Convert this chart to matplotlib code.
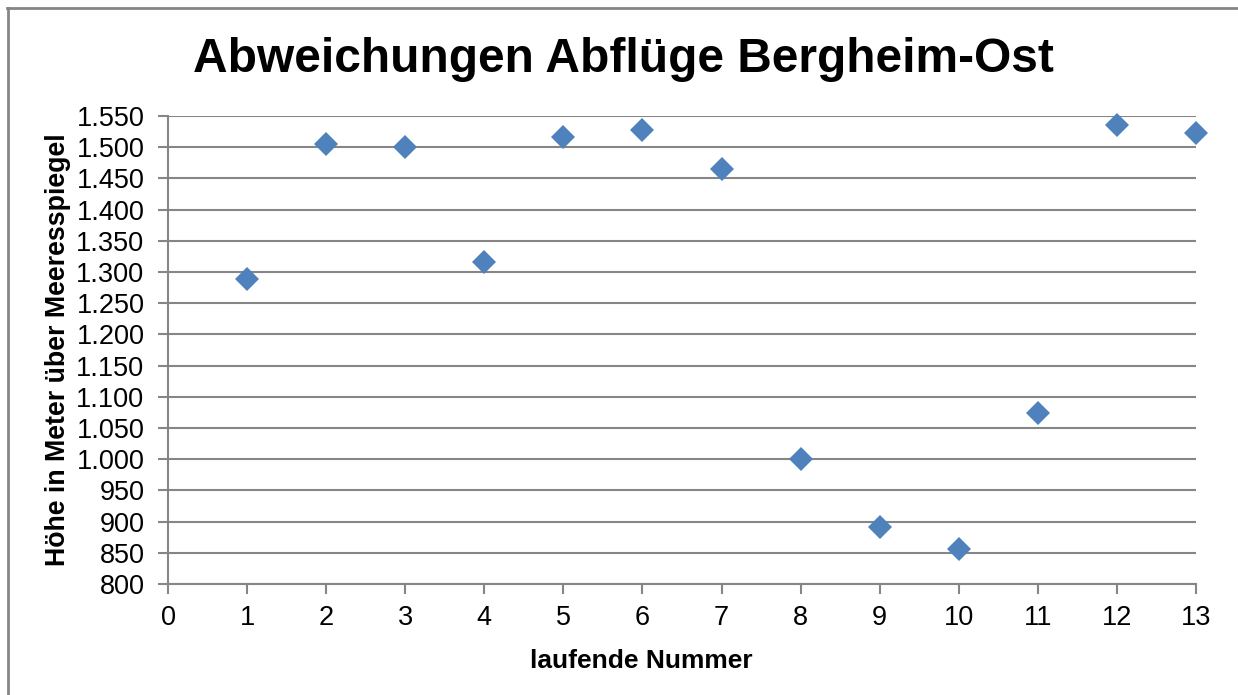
import matplotlib
matplotlib.use('Agg')
import matplotlib.pyplot as plt
from matplotlib.lines import Line2D
from matplotlib.ticker import FuncFormatter

# data
laufende_nummer = [1, 2, 3, 4, 5, 6, 7, 8, 9, 10, 11, 12, 13]
hoehe = [1288, 1505, 1500, 1316, 1516, 1528, 1465, 1000, 891, 856, 1074, 1536, 1523]

title = 'Abweichungen Abflüge Bergheim-Ost'
xlabel = 'laufende Nummer'
ylabel = 'Höhe in Meter über Meeresspiegel'

plt.rcParams['font.family'] = ['Liberation Sans', 'DejaVu Sans']

W, H = 1238, 695
fig = plt.figure(figsize=(W / 100, H / 100), dpi=100)
ax = fig.add_axes([168 / W, 1 - 584 / H, (1196 - 168) / W, (584 - 116) / H])

grid_c = '#868686'
ax.plot(laufende_nummer, hoehe, linestyle='none', marker='D', ms=12.5,
        color='#4F81BD', markeredgewidth=0, clip_on=False, zorder=3)

ax.set_xlim(0, 13)
ax.set_ylim(800, 1550)
ax.set_xticks(range(0, 14))
ax.set_yticks(range(800, 1551, 50))
ax.yaxis.set_major_formatter(FuncFormatter(lambda v, p: f'{int(v):,}'.replace(',', '.')))
ax.grid(axis='y', color=grid_c, lw=1.5)
ax.set_axisbelow(True)
for s in ['top', 'right']:
    ax.spines[s].set_visible(False)
for s in ['left', 'bottom']:
    ax.spines[s].set_color(grid_c)
    ax.spines[s].set_linewidth(1.5)
ax.tick_params(axis='both', direction='out', length=7, width=1.5, color=grid_c,
               labelsize=19.5, labelcolor='black')
ax.tick_params(axis='y', pad=10)
ax.tick_params(axis='x', pad=8)

ax.set_xlabel(xlabel, fontsize=19, fontweight='bold', labelpad=13)
ax.xaxis.label.set_x((641 - 168) / (1196 - 168))
ax.set_ylabel(ylabel, fontsize=19.3, fontweight='bold', labelpad=4)
fig.text(623 / W, 1 - 60 / H, title, fontsize=34.5, fontweight='bold',
         ha='center', va='center')

# outer chart border
fig.add_artist(Line2D([7 / W, 1.01], [1 - 7.5 / H, 1 - 7.5 / H], color='#868686', lw=2))
fig.add_artist(Line2D([7.5 / W, 7.5 / W], [-0.01, 1 - 7.5 / H], color='#868686', lw=2))

fig.savefig('out.png', dpi=100)
